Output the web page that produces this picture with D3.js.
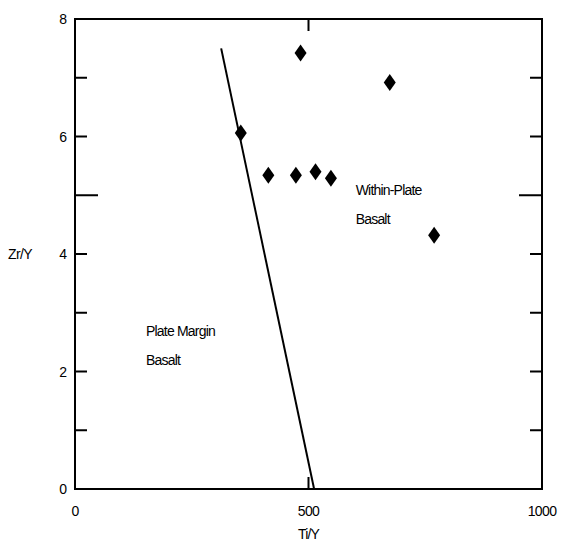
<!DOCTYPE html>
<html>
<head>
<meta charset="utf-8">
<script src="https://cdn.jsdelivr.net/npm/d3@7"></script>
<style>
  html, body { margin: 0; padding: 0; background: #fff; }
  svg { display: block; font-family: "Liberation Sans", Arial, sans-serif; }
</style>
</head>
<body>
<svg id="chart" width="562" height="542"></svg>
<script>
// Ti/Y vs Zr/Y discrimination diagram
const tiY = [355, 414, 473, 515, 548, 483, 674, 769];
const zrY = [6.06, 5.34, 5.34, 5.40, 5.29, 7.42, 6.92, 4.32];

// Boundary between plate-margin and within-plate fields
const boundaryTiY = [313, 512];
const boundaryZrY = [7.5, 0];

const xTickValues = [0, 500, 1000];
const xTickLabels = ["0", "500", "1000"];
const yTickValues = [0, 1, 2, 3, 4, 5, 6, 7, 8];
const yTickLabels = ["0", "", "2", "", "4", "", "6", "", "8"];
const yLongTicks = [5];

const fieldLabels = [
  { lines: ["Plate Margin", "Basalt"], tx: 152, zy: 2.60 },
  { lines: ["Within-Plate", "Basalt"], tx: 601, zy: 5.0 }
];

const svg = d3.select("#chart");
const plotLeft = 75, plotRight = 542, plotTop = 19, plotBottom = 489;

const x = d3.scaleLinear().domain([0, 1000]).range([plotLeft, plotRight]);
const y = d3.scaleLinear().domain([0, 8]).range([plotBottom, plotTop]);

const black = "#000";

// Inner ticks: left / right axes
const shortTick = 12, longTick = 23;
const tickLen = v => yLongTicks.includes(v) ? longTick : shortTick;
const innerY = yTickValues.filter(v => v > 0 && v < 8);

svg.append("g").selectAll("line")
  .data(innerY)
  .join("line")
  .attr("x1", plotLeft).attr("x2", v => plotLeft + tickLen(v))
  .attr("y1", v => y(v)).attr("y2", v => y(v))
  .attr("stroke", black).attr("stroke-width", 2);

svg.append("g").selectAll("line")
  .data(innerY)
  .join("line")
  .attr("x1", plotRight).attr("x2", v => plotRight - tickLen(v))
  .attr("y1", v => y(v)).attr("y2", v => y(v))
  .attr("stroke", black).attr("stroke-width", 2);

// Inner ticks: top / bottom axes
const innerX = xTickValues.filter(v => v > 0 && v < 1000);

svg.append("g").selectAll("line")
  .data(innerX)
  .join("line")
  .attr("x1", v => x(v)).attr("x2", v => x(v))
  .attr("y1", plotTop).attr("y2", plotTop + shortTick)
  .attr("stroke", black).attr("stroke-width", 2);

svg.append("g").selectAll("line")
  .data(innerX)
  .join("line")
  .attr("x1", v => x(v)).attr("x2", v => x(v))
  .attr("y1", plotBottom).attr("y2", plotBottom - shortTick)
  .attr("stroke", black).attr("stroke-width", 2);

// Frame
svg.append("rect")
  .attr("x", plotLeft).attr("y", plotTop)
  .attr("width", plotRight - plotLeft).attr("height", plotBottom - plotTop)
  .attr("fill", "none").attr("stroke", black).attr("stroke-width", 2);

// Tick labels
svg.append("g").selectAll("text")
  .data(yTickValues.map((v, i) => ({ v, t: yTickLabels[i] })).filter(d => d.t))
  .join("text")
  .attr("x", plotLeft - 8).attr("y", d => y(d.v) + 5)
  .attr("text-anchor", "end").attr("font-size", 14)
  .text(d => d.t);

svg.append("g").selectAll("text")
  .data(xTickValues.map((v, i) => ({ v, t: xTickLabels[i] })))
  .join("text")
  .attr("x", d => x(d.v)).attr("y", plotBottom + 27)
  .attr("text-anchor", "middle").attr("font-size", 14)
  .attr("letter-spacing", -0.6)
  .text(d => d.t);

// Axis titles
svg.append("text")
  .attr("x", x(500)).attr("y", plotBottom + 50)
  .attr("text-anchor", "middle").attr("font-size", 14)
  .attr("letter-spacing", -0.8)
  .text("Ti/Y");

svg.append("text")
  .attr("x", 8).attr("y", y(4) + 5)
  .attr("font-size", 14).attr("letter-spacing", -0.6)
  .text("Zr/Y");

// Boundary line
svg.append("path")
  .datum(boundaryTiY.map((v, i) => [v, boundaryZrY[i]]))
  .attr("d", d3.line().x(d => x(d[0])).y(d => y(d[1])))
  .attr("fill", "none").attr("stroke", black).attr("stroke-width", 2);

// Field labels
fieldLabels.forEach(f => {
  const t = svg.append("text")
    .attr("x", x(f.tx)).attr("y", y(f.zy))
    .attr("font-size", 14).attr("letter-spacing", -0.8);
  f.lines.forEach((line, i) => {
    t.append("tspan").attr("x", x(f.tx)).attr("dy", i === 0 ? 0 : 29).text(line);
  });
});

// Diamond markers
const hw = 6, hh = 8.5;
svg.append("g").selectAll("path")
  .data(tiY.map((v, i) => [v, zrY[i]]))
  .join("path")
  .attr("d", `M0,${-hh}L${hw},0L0,${hh}L${-hw},0Z`)
  .attr("transform", d => `translate(${x(d[0])},${y(d[1])})`)
  .attr("fill", black);
</script>
</body>
</html>
